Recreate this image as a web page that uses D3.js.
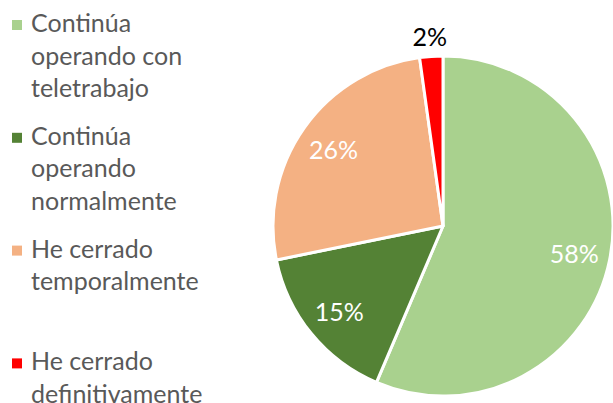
<!DOCTYPE html>
<html>
<head>
<meta charset="utf-8">
<script src="https://cdn.jsdelivr.net/npm/d3@7"></script>
<style>
  html, body { margin: 0; padding: 0; background: white; }
  svg { display: block; font-family: Lato, "Open Sans", sans-serif; }
</style>
</head>
<body>
<div id="chart"></div>
<script>
const categories = [
    ["Continúa", "operando con", "teletrabajo"],
    ["Continúa", "operando", "normalmente"],
    ["He cerrado", "temporalmente"],
    ["He cerrado", "definitivamente"]
]
const values = [56.4, 15.4, 26.0, 2.2]
const valueLabels = ["58%", "15%", "26%", "2%"]
const colors = ["#A9D18E", "#548235", "#F4B183", "#FF0000"]

const width = 613
const height = 403
const cx = 443, cy = 226, radius = 170

const svg = d3.select("#chart").append("svg")
    .attr("width", width)
    .attr("height", height)

const data = values.map((v, i) => ({ value: v, label: valueLabels[i], color: colors[i], i: i }))

const pie = d3.pie().value(d => d.value).sort(null)
const arc = d3.arc().innerRadius(0).outerRadius(radius)
const labelArc = d3.arc().innerRadius(134).outerRadius(134)
const outerArc = d3.arc().innerRadius(190).outerRadius(190)

const arcs = pie(data)

const g = svg.append("g").attr("transform", `translate(${cx},${cy})`)

g.selectAll("path")
    .data(arcs)
    .join("path")
    .attr("d", arc)
    .attr("fill", d => d.data.color)
    .attr("stroke", "white")
    .attr("stroke-width", 3)
    .attr("stroke-linejoin", "round")

// small slices get their label outside, in black
g.selectAll("text")
    .data(arcs)
    .join("text")
    .attr("transform", d => {
        const small = (d.endAngle - d.startAngle) < 0.2
        const p = small ? outerArc.centroid(d) : labelArc.centroid(d)
        return `translate(${p[0]},${p[1]})`
    })
    .attr("text-anchor", "middle")
    .attr("dominant-baseline", "central")
    .attr("font-size", 25)
    .attr("fill", d => (d.endAngle - d.startAngle) < 0.2 ? "#000" : "#fff")
    .text(d => d.data.label)

// legend
const legend = svg.append("g")
const entryStep = 112.8
const lineH = 32.5

const entries = legend.selectAll("g")
    .data(categories)
    .join("g")
    .attr("transform", (d, i) => `translate(12,${20 + i * entryStep})`)

entries.append("rect")
    .attr("width", 10)
    .attr("height", 10)
    .attr("fill", (d, i) => colors[i])

entries.append("text")
    .attr("x", 19)
    .attr("y", 12)
    .attr("font-size", 25)
    .attr("fill", "#595959")
    .selectAll("tspan")
    .data(d => d)
    .join("tspan")
    .attr("x", 19)
    .attr("dy", (d, j) => j === 0 ? 0 : lineH)
    .text(d => d)
</script>
</body>
</html>
